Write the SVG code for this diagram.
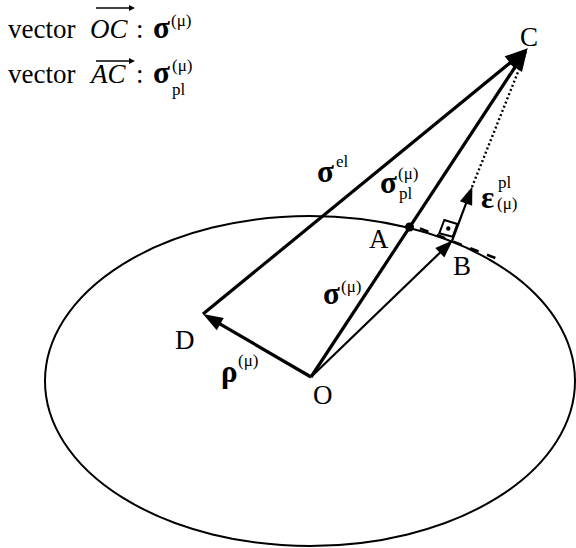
<svg xmlns="http://www.w3.org/2000/svg" width="576" height="548" viewBox="0 0 576 548">
<style>
.t{font-family:"Liberation Serif","Times New Roman",serif;font-size:27px;fill:#000}
.i{font-style:italic}
.g{font-family:"Liberation Serif","Times New Roman",serif;font-size:31px;font-weight:bold;fill:#000}
.s{font-family:"Liberation Serif","Times New Roman",serif;font-size:17px;fill:#000}
.thick{stroke:#000;stroke-width:3.2;fill:none}
.thin{stroke:#000;stroke-width:2.2;fill:none}
</style>
<defs>
<marker id="mBig" markerUnits="userSpaceOnUse" orient="auto" refX="4" refY="0" markerWidth="30" markerHeight="30" overflow="visible"><path d="M0,-8.5 L23,0 L0,8.5 z" fill="#000"/></marker>
<marker id="mMid" markerUnits="userSpaceOnUse" orient="auto" refX="4" refY="0" markerWidth="30" markerHeight="30" overflow="visible"><path d="M0,-7 L20,0 L0,7 z" fill="#000"/></marker>
<marker id="mSmall" markerUnits="userSpaceOnUse" orient="auto" refX="3" refY="0" markerWidth="30" markerHeight="30" overflow="visible"><path d="M0,-6.5 L18,0 L0,6.5 z" fill="#000"/></marker>
<marker id="mTiny" markerUnits="userSpaceOnUse" orient="auto" refX="1" refY="0" markerWidth="10" markerHeight="10" overflow="visible"><path d="M0,-3 L6,0 L0,3 z" fill="#000"/></marker>
</defs>

<g id="legend">
<text class="t" x="8" y="38">vector</text>
<text class="t i" x="90" y="38">OC</text>
<line x1="96" y1="8" x2="130" y2="8" stroke="#000" stroke-width="1.5" marker-end="url(#mTiny)"/>
<text class="t" x="136" y="38">:</text>
<text class="g" x="153" y="38">σ</text>
<text class="s" x="171" y="26">(μ)</text>
<text class="t" x="8" y="83">vector</text>
<text class="t i" x="91" y="83">AC</text>
<line x1="96" y1="61" x2="130" y2="61" stroke="#000" stroke-width="1.5" marker-end="url(#mTiny)"/>
<text class="t" x="136" y="83">:</text>
<text class="g" x="153" y="83">σ</text>
<text class="s" x="172" y="71">(μ)</text>
<text class="s" x="172" y="95">pl</text>
</g>

<g id="ellipse">
<ellipse cx="310" cy="381" rx="265" ry="165" fill="none" stroke="#000" stroke-width="2"/>
</g>

<g id="connectors">
<line class="thick" x1="311" y1="377" x2="517.1" y2="64" marker-end="url(#mBig)"/>
<line class="thick" x1="203" y1="314" x2="513.1" y2="60.4" marker-end="url(#mBig)"/>
<line class="thick" x1="311" y1="377" x2="216.8" y2="322.1" marker-end="url(#mMid)"/>
<line class="thin" x1="311" y1="377" x2="442" y2="250.7" marker-end="url(#mSmall)"/>
<line class="thin" x1="452" y1="241" x2="467.1" y2="200.6" marker-end="url(#mSmall)"/>
<line x1="472" y1="187" x2="526" y2="52" stroke="#000" stroke-width="2.4" stroke-dasharray="2 2.5"/>
<line x1="420" y1="228.4" x2="499" y2="259.5" stroke="#000" stroke-width="2.6" stroke-dasharray="9 9"/>
</g>

<g id="rightangle">
<polygon points="452.7,236.7 457.3,224 444.3,220 439.3,233.3" fill="none" stroke="#000" stroke-width="2"/>
<circle cx="448.3" cy="228.5" r="2.2" fill="#000"/>
</g>

<g id="A">
<circle cx="409.5" cy="227" r="4.5" fill="#000"/>
<text class="t" x="369" y="248">A</text>
</g>
<g id="B"><text class="t" x="453" y="275">B</text></g>
<g id="C"><text class="t" x="520" y="46">C</text></g>
<g id="D"><text class="t" x="175" y="349">D</text></g>
<g id="O"><text class="t" x="313" y="404">O</text></g>

<g id="labels">
<text class="g" x="317" y="182">σ</text>
<text class="s" x="336" y="167">el</text>
<text class="g" x="380" y="193">σ</text>
<text class="s" x="398" y="179">(μ)</text>
<text class="s" x="399" y="199">pl</text>
<text class="g" x="481" y="208">ε</text>
<text class="s" x="498" y="188">pl</text>
<text class="s" x="497" y="209">(μ)</text>
<text class="g" x="323" y="304">σ</text>
<text class="s" x="341" y="292">(μ)</text>
<text class="g" x="221" y="382">ρ</text>
<text class="s" x="238" y="366">(μ)</text>
</g>
</svg>
